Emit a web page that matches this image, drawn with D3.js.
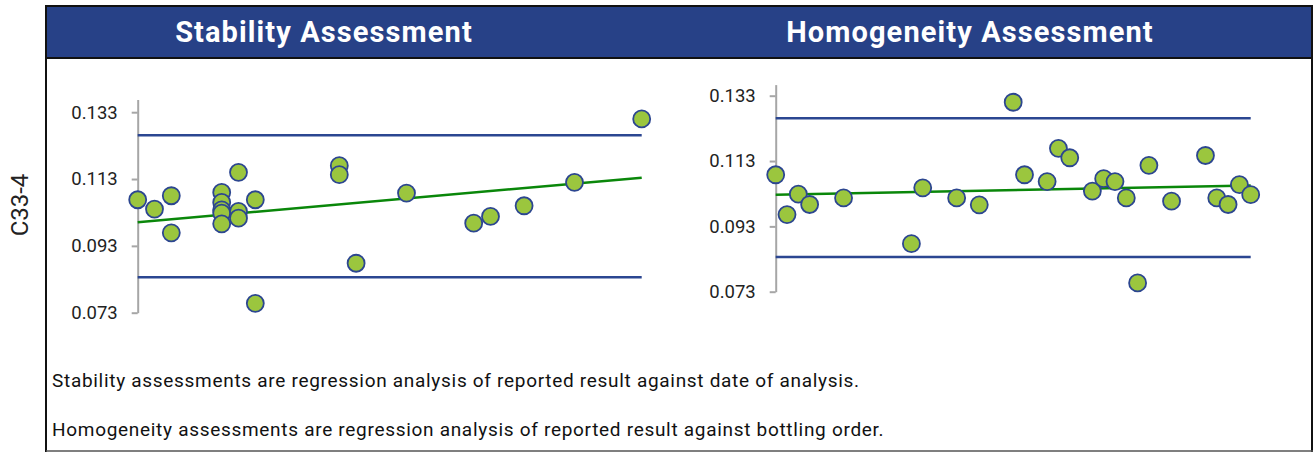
<!DOCTYPE html>
<html>
<head>
<meta charset="utf-8">
<script src="https://cdn.jsdelivr.net/npm/d3@7"></script>
<style>
  body { margin: 0; background: #fff; }
  svg { display: block; font-family: Roboto, "Noto Sans", sans-serif; }
</style>
</head>
<body>
<svg id="chart" width="1313" height="452"></svg>
<script>
// stability: x = day of analysis, y = reported result
var stabDays = [0, 1, 2, 2, 5, 5, 5, 5, 5, 6, 6, 6, 7, 7, 12, 12, 13, 16, 20, 21, 23, 26, 30];
var stabValues = [0.1068, 0.1040, 0.1080, 0.0969, 0.1090, 0.1060, 0.1038, 0.1028, 0.0996, 0.1150, 0.1033, 0.1013,
    0.1068, 0.0758, 0.1170, 0.1143, 0.0878, 0.1088, 0.0998, 0.1018, 0.1050, 0.1120, 0.1310];
var stabTrend = [0.1001, 0.1134]; // regression at first / last day

// homogeneity: x = bottling order
var homOrder = [1, 2, 3, 4, 7, 13, 14, 17, 19, 22, 23, 25, 26, 27, 29, 30, 31, 32, 33, 34, 36, 39, 40, 41, 42, 43];
var homValues = [0.1088, 0.0966, 0.1029, 0.0997, 0.1017, 0.0877, 0.1048, 0.1017, 0.0996, 0.1310, 0.1088, 0.1067,
    0.1169, 0.1140, 0.1038, 0.1076, 0.1067, 0.1017, 0.0757, 0.1117, 0.1007, 0.1147, 0.1017, 0.0997, 0.1058, 0.1027];
var homTrend = [0.1027, 0.1055];

var limits = [0.1261, 0.0836];
var yTicks = [0.073, 0.093, 0.113, 0.133];
var titles = ['Stability Assessment', 'Homogeneity Assessment'];
var notes = [
    'Stability assessments are regression analysis of reported result against date of analysis.',
    'Homogeneity assessments are regression analysis of reported result against bottling order.'
];
var rowLabel = 'C33-4';

var svg = d3.select('#chart');

// header band
svg.append('rect').attr('x', 47).attr('y', 6).attr('width', 1266).attr('height', 52).attr('fill', '#274187');
svg.append('line').attr('x1', 47).attr('x2', 1313).attr('y1', 58).attr('y2', 58).attr('stroke', '#111').attr('stroke-width', 2);

// outer frame
svg.append('line').attr('x1', 46).attr('x2', 46).attr('y1', 5).attr('y2', 452).attr('stroke', '#111').attr('stroke-width', 2);
svg.append('line').attr('x1', 46).attr('x2', 1313).attr('y1', 6).attr('y2', 6).attr('stroke', '#111').attr('stroke-width', 2);
svg.append('line').attr('x1', 1312).attr('x2', 1312).attr('y1', 6).attr('y2', 452).attr('stroke', '#111').attr('stroke-width', 2);
svg.append('line').attr('x1', 46).attr('x2', 1313).attr('y1', 451).attr('y2', 451).attr('stroke', '#555').attr('stroke-width', 1.5);

svg.selectAll('.title')
    .data(titles)
    .enter()
    .append('text')
    .attr('class', 'title')
    .attr('x', (d, i) => (i === 0 ? 324 : 970))
    .attr('y', 42)
    .attr('text-anchor', 'middle')
    .attr('fill', '#fff')
    .style('font-size', '29px')
    .style('letter-spacing', '1.1px')
    .style('font-weight', 700)
    .text((d) => d);

svg.append('text')
    .attr('transform', 'translate(28,205) rotate(-90)')
    .attr('text-anchor', 'middle')
    .attr('fill', '#222')
    .style('font-size', '24px')
    .text(rowLabel);

svg.selectAll('.note')
    .data(notes)
    .enter()
    .append('text')
    .attr('class', 'note')
    .attr('x', 52)
    .attr('y', (d, i) => 387 + i * 49)
    .attr('fill', '#111')
    .style('font-size', '19px')
    .style('letter-spacing', '0.7px')
    .text((d) => d);

function drawPanel(xs, ys, trend, x, y) {
    var g = svg.append('g');

    var axis = d3.axisLeft(y)
        .tickValues(yTicks)
        .tickFormat(d3.format('.3f'))
        .tickSizeInner(6)
        .tickSizeOuter(0)
        .tickPadding(14);

    var ax = g.append('g').attr('transform', 'translate(' + x.range()[0] + ',0)').call(axis);
    ax.select('.domain').attr('stroke', '#a6a6a6').attr('stroke-width', 2);
    ax.selectAll('.tick line').attr('stroke', '#a6a6a6').attr('stroke-width', 2);
    ax.selectAll('.tick text')
        .attr('fill', '#222')
        .style('font-size', '18.5px')
        .style('font-family', 'Roboto, sans-serif');

    // control limits
    g.selectAll('.limit')
        .data(limits)
        .enter()
        .append('line')
        .attr('x1', x.range()[0])
        .attr('x2', x.range()[1])
        .attr('y1', (d) => y(d))
        .attr('y2', (d) => y(d))
        .attr('stroke', '#2b4691')
        .attr('stroke-width', 2.5);

    // trend line
    g.append('line')
        .attr('x1', x(x.domain()[0]))
        .attr('x2', x(x.domain()[1]))
        .attr('y1', y(trend[0]))
        .attr('y2', y(trend[1]))
        .attr('stroke', '#0a870a')
        .attr('stroke-width', 2.5);

    g.selectAll('.pt')
        .data(ys)
        .enter()
        .append('circle')
        .attr('cx', (d, i) => x(xs[i]))
        .attr('cy', (d) => y(d))
        .attr('r', 8.5)
        .attr('fill', '#9bc63e')
        .attr('stroke', '#2c4690')
        .attr('stroke-width', 1.8);
}

var xStab = d3.scaleLinear().domain([0, 30]).range([137.7, 641.7]);
var yStab = d3.scaleLinear().domain([0.073, 0.1368]).range([312.7, 99.5]);
drawPanel(stabDays, stabValues, stabTrend, xStab, yStab);

var xHom = d3.scaleLinear().domain([1, 43]).range([775.7, 1250.7]);
var yHom = d3.scaleLinear().domain([0.073, 0.1364]).range([291.7, 84.6]);
drawPanel(homOrder, homValues, homTrend, xHom, yHom);
</script>
</body>
</html>
